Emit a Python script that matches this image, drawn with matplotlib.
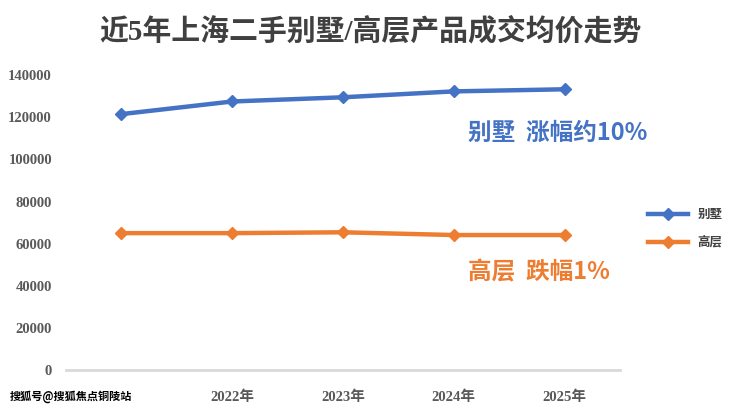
import matplotlib.pyplot as plt

years = ['2021年', '2022年', '2023年', '2024年', '2025年']
villa = [121500, 127500, 129500, 132300, 133300]
highrise = [65000, 65000, 65400, 64100, 64100]
yticks = [0, 20000, 40000, 60000, 80000, 100000, 120000, 140000]

BLUE = '#4472C4'
ORANGE = '#ED7D31'
MIX = ['Liberation Serif', 'Noto Sans CJK SC']
CJK = ['Noto Sans CJK SC', 'DejaVu Sans']

fig = plt.figure(figsize=(7.4, 4.13), dpi=100)
ax = fig.add_axes([0.089, 0.104, 0.749, 0.714])

x = range(len(years))
ax.plot(x, villa, color=BLUE, lw=3.2, marker='D', ms=6, label='别墅')
ax.plot(x, highrise, color=ORANGE, lw=3.2, marker='D', ms=6, label='高层')

ax.set_xlim(-0.5, len(years) - 0.5)
ax.set_ylim(0, 140000)
ax.set_yticks(yticks)
ax.set_yticklabels([str(v) for v in yticks], family=MIX, fontsize=10.5,
                   color='#595959', weight='bold')
ax.set_xticks(list(x))
ax.set_xticklabels(years, family=MIX, fontsize=10.5, color='#595959',
                   weight='bold')
# the first year label sits under the watermark in the source image
ax.get_xticklabels()[0].set_visible(False)
ax.tick_params(length=0, pad=10)
ax.tick_params(axis='x', pad=15)
for s in ['top', 'right', 'left']:
    ax.spines[s].set_visible(False)
ax.spines['bottom'].set_color('#d9d9d9')
ax.spines['bottom'].set_linewidth(2)

fig.text(0.5, 0.925, '近5年上海二手别墅/高层产品成交均价走势', ha='center',
         va='center', family=MIX, fontsize=20.8, weight='bold', color='#404040')

fig.text(0.633, 0.678, '别墅  涨幅约10%', ha='left', va='center', family=CJK,
         fontsize=17, weight='bold', color=BLUE)
fig.text(0.633, 0.34, '高层  跌幅1%', ha='left', va='center', family=CJK,
         fontsize=17, weight='bold', color=ORANGE)

leg = fig.legend(loc='center left', bbox_to_anchor=(0.86, 0.447), frameon=False,
                 prop={'family': CJK, 'size': 9, 'weight': 'bold'},
                 handlelength=3.2, labelspacing=1.2)
for t in leg.get_texts():
    t.set_color('#404040')

fig.text(0.013, 0.04, '搜狐号@搜狐焦点铜陵站', ha='left', va='center', family=CJK,
         fontsize=8, weight='bold', color='black', zorder=10)

fig.savefig('out.png', dpi=100)
